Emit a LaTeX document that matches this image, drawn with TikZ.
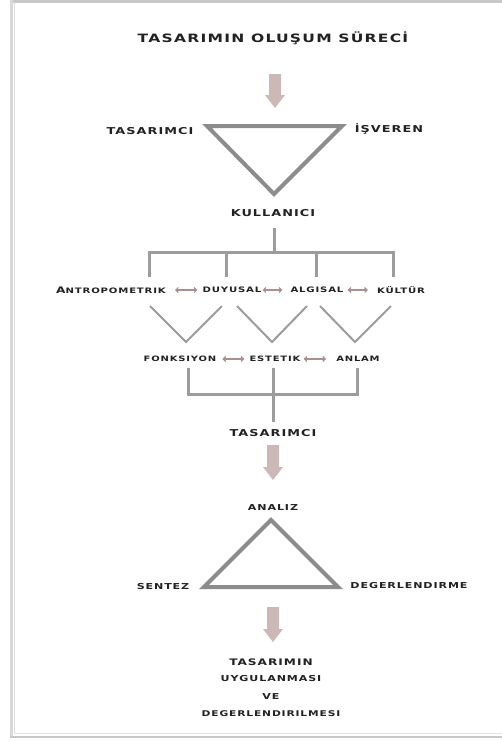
\documentclass[tikz,border=0pt]{standalone}
\usepackage{fontspec}
\usetikzlibrary{arrows.meta}
\newfontfamily\widefont{DejaVu Sans}[FakeStretch=1.35,LetterSpace=11]
\definecolor{txt}{HTML}{222222}
\definecolor{tri}{HTML}{8C8C8C}
\definecolor{brk}{HTML}{9C9C9C}
\definecolor{bigarr}{HTML}{CDB8B8}
\definecolor{smarr}{HTML}{A89090}
\definecolor{frame}{HTML}{C8C8C8}
\tikzset{
  lbl/.style={inner sep=0pt, text=txt, font=\widefont\bfseries\fontsize{#1}{#1}\selectfont},
  tribox/.style={draw=tri, line width=4pt, line join=miter},
  brkline/.style={draw=brk, line width=3pt},
  vline/.style={draw=brk, line width=2pt},
  dblarr/.style={draw=smarr, line width=1.2pt, {Straight Barb[length=2.5pt,width=5pt]}-{Straight Barb[length=2.5pt,width=5pt]}},
  bigarrow/.style={fill=bigarr, draw=none}
}
\begin{document}
\begin{tikzpicture}[x=1pt,y=-1pt]
\useasboundingbox (0,0) rectangle (502,742);
\fill[white] (0,0) rectangle (502,742);
% frame
\draw[frame, line width=3pt] (10,1.5) -- (502,1.5);
\draw[frame!70, line width=2.5pt] (11.5,0) -- (11.5,737);
\draw[frame!60, line width=1pt] (14,3) -- (14,734);
\draw[frame, line width=2pt] (10,736.5) -- (502,736.5);
\draw[frame!50, line width=1pt] (14,733) -- (502,733);

% title
\node[lbl=11.5] (title) at (273,38) {TASARIMIN OLUŞUM SÜRECİ};
% big arrow 1
\coordinate (a1) at (275,74);
\fill[bigarr] (269,74) -- (281,74) -- (281,95) -- (285,95) -- (275,108) -- (265,95) -- (269,95) -- cycle;

% inverted triangle
\coordinate (t1a) at (207,126);
\coordinate (t1b) at (342,126);
\coordinate (t1c) at (274,194);
\draw[tribox] (t1a) -- (t1b) -- (t1c) -- cycle;
\node[lbl=9.5] (tas1) at (150,131) {TASARIMCI};
\node[lbl=9.5] (isv) at (389,129) {İŞVEREN};
\node[lbl=9.5] (kul) at (273,213) {KULLANICI};

% top bracket
\draw[brkline] (274,228) -- (274,252);
\draw[brkline] (149,277) -- (149,252) -- (393,252) -- (393,277);
\draw[brkline] (226,252) -- (226,277);
\draw[brkline] (316,252) -- (316,277);

% row 1
\node[lbl=7.5] (n1) at (111,290) {{\fontsize{9}{9}\selectfont A}NTROPOMETRIK};
\node[lbl=7.5] (n2) at (232,290) {DUYUSAL};
\node[lbl=7.5] (n3) at (317,290) {ALGISAL};
\node[lbl=7.5] (n4) at (401,290) {KÜLTÜR};
\draw[dblarr, shorten <=9pt, shorten >=5pt] (n1.east) -- (n2.west);
\draw[dblarr, shorten <=1pt, shorten >=8pt] (n2.east) -- (n3.west);
\draw[dblarr, shorten <=4pt, shorten >=9pt] (n3.east) -- (n4.west);

% V shapes
\draw[vline] (150,306) -- (186,342) -- (222,306);
\draw[vline] (237,306) -- (272,342) -- (307,306);
\draw[vline] (320,306) -- (355,342) -- (391,306);

% row 2
\node[lbl=7.4] (f) at (180,359) {FONKSIYON};
\node[lbl=7.4] (e) at (275,359) {ESTETIK};
\node[lbl=7.4] (an) at (358,359) {ANLAM};
\draw[dblarr, shorten <=6pt, shorten >=5pt] (f.east) -- (e.west);
\draw[dblarr, shorten <=3pt, shorten >=10pt] (e.east) -- (an.west);

% bottom bracket
\draw[brkline] (188,368) -- (188,394) -- (357,394) -- (357,368);
\draw[brkline] (273,368) -- (273,422);

\node[lbl=9.5] (tas2) at (273,433) {TASARIMCI};
% big arrow 2
\fill[bigarr] (267,445) -- (279,445) -- (279,467) -- (283,467) -- (273,480) -- (263,467) -- (267,467) -- cycle;

\node[lbl=8.2] (anz) at (273,508) {ANALIZ};
\coordinate (t2a) at (271,520);
\coordinate (t2b) at (338,587);
\coordinate (t2c) at (204,587);
\draw[tribox] (t2a) -- (t2b) -- (t2c) -- cycle;
\node[lbl=8.2] (sen) at (163,587) {SENTEZ};
\node[lbl=8.2] (deg) at (409,586) {DEGERLENDIRME};

% big arrow 3
\fill[bigarr] (267,607) -- (279,607) -- (279,629) -- (283,629) -- (273,642) -- (263,629) -- (267,629) -- cycle;

\node[lbl=9] (b1) at (271,662) {TASARIMIN};
\node[lbl=8.2] (b2) at (271,679) {UYGULANMASI};
\node[lbl=8.2] (b3) at (271,697) {VE};
\node[lbl=7.9] (b4) at (271,714) {DEGERLENDIRILMESI};
\end{tikzpicture}
\end{document}
